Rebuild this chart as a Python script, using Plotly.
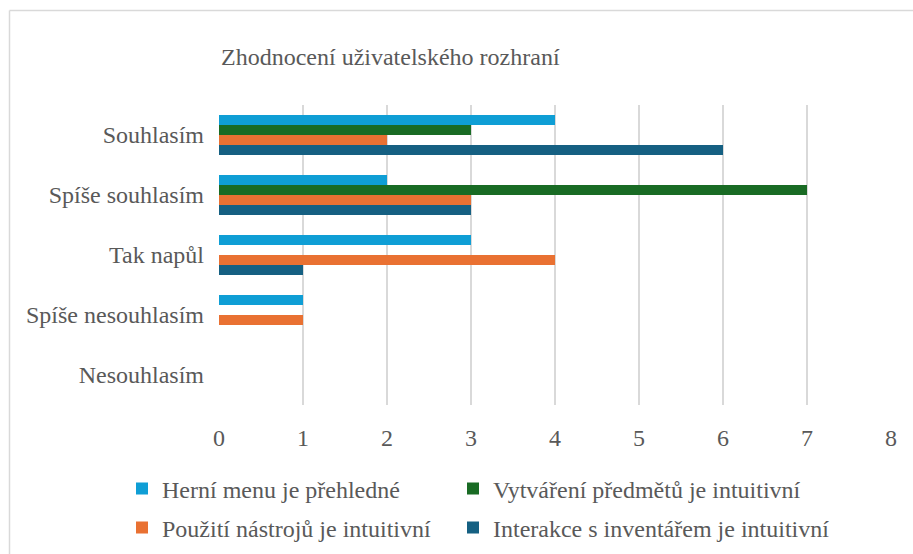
import plotly.graph_objects as go

# Survey answers (top to bottom) and the count of respondents per statement
categories = ["Souhlasím", "Spíše souhlasím", "Tak napůl", "Spíše nesouhlasím", "Nesouhlasím"]
series_names = [
    "Herní menu je přehledné",
    "Vytváření předmětů je intuitivní",
    "Použití nástrojů je intuitivní",
    "Interakce s inventářem je intuitivní",
]
menu_values = [4, 2, 3, 1, 0]
crafting_values = [3, 7, 0, 0, 0]
tools_values = [2, 3, 4, 1, 0]
inventory_values = [6, 3, 1, 0, 0]
x_ticks = [0, 1, 2, 3, 4, 5, 6, 7, 8]

colors = ["#0F9ED5", "#196B24", "#E97132", "#156082"]
series_values = [menu_values, crafting_values, tools_values, inventory_values]

FONT = "Liberation Serif"
FS = 24
TEXT = "#595959"
W, H = 913, 554
L, R, T, B = 219, 22, 105, 149
PW, PH = W - L - R, H - T - B


def px_x(p):
    return (p - L) / PW


def px_y(p):
    return (H - B - p) / PH


# one single-entry legend per series, laid out as a 2x2 grid below the plot
legend_ids = ["legend", "legend2", "legend3", "legend4"]
legend_pos = [(122, 489), (453, 489), (122, 528), (453, 528)]

fig = go.Figure()
for name, vals, col, lg in zip(series_names, series_values, colors, legend_ids):
    fig.add_trace(go.Bar(
        y=categories, x=vals, name=name, orientation="h",
        marker=dict(color=col, line=dict(width=0)),
        legend=lg, showlegend=True,
    ))

legends = {}
for lg, (lx, ly) in zip(legend_ids, legend_pos):
    legends[lg] = dict(
        orientation="h", xref="paper", yref="paper",
        x=px_x(lx), y=px_y(ly), xanchor="left", yanchor="middle",
        font=dict(family=FONT, size=FS, color=TEXT),
        bgcolor="rgba(0,0,0,0)", itemclick=False, visible=True,
    )

fig.update_layout(
    width=W, height=H,
    margin=dict(l=L, r=R, t=T, b=B, autoexpand=False),
    paper_bgcolor="white", plot_bgcolor="white",
    showlegend=True,
    barmode="group", bargap=1 / 3, bargroupgap=0,
    font=dict(family=FONT, size=FS, color=TEXT),
    title=dict(
        text="Zhodnocení uživatelského rozhraní",
        x=px_x(221), xref="paper", xanchor="left",
        y=1 - 57 / H, yref="container", yanchor="middle",
        font=dict(family=FONT, size=FS, color=TEXT),
    ),
    xaxis=dict(
        range=[0, 8], tickvals=x_ticks, showgrid=True,
        gridcolor="#D9D9D9", gridwidth=1.5, zeroline=False,
        showline=False, ticks="", ticklabelstandoff=16,
        tickfont=dict(family=FONT, size=FS, color=TEXT),
    ),
    yaxis=dict(
        categoryorder="array", categoryarray=categories,
        autorange="reversed", showgrid=False, zeroline=False,
        showline=False, ticks="", ticklabelstandoff=14,
        tickfont=dict(family=FONT, size=FS, color=TEXT),
    ),
    shapes=[
        dict(type="line", xref="paper", yref="paper",
             x0=px_x(9.5), x1=px_x(W + 5), y0=px_y(10.5), y1=px_y(10.5),
             line=dict(color="#D9D9D9", width=1.5)),
        dict(type="line", xref="paper", yref="paper",
             x0=px_x(9.5), x1=px_x(9.5), y0=px_y(10.5), y1=px_y(H + 5),
             line=dict(color="#D9D9D9", width=1.5)),
    ],
    **legends,
)

fig.write_html("out.html")
